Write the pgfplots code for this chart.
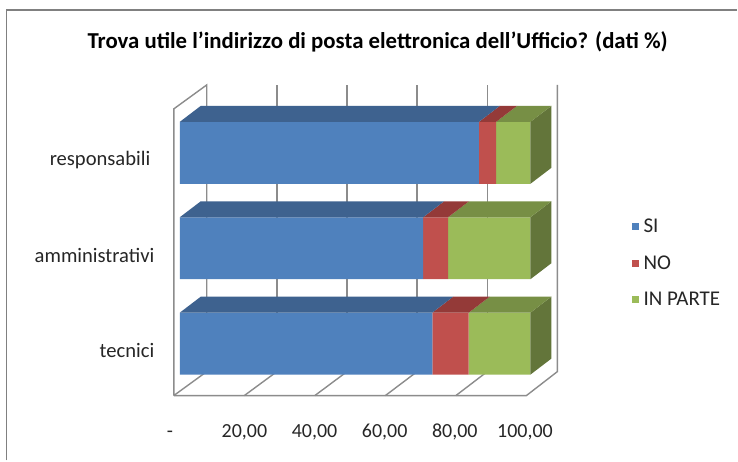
\documentclass[border=0pt]{standalone}
\usepackage{fontspec}
\setmainfont{Carlito}
\usepackage{pgfplots}
\pgfplotsset{compat=1.18}
\usepackage{pgfplotstable}
\definecolor{cB}{HTML}{4F81BD}\definecolor{cR}{HTML}{C0504D}\definecolor{cG}{HTML}{9BBB59}
\definecolor{tB}{HTML}{3E628F}\definecolor{tR}{HTML}{943A38}\definecolor{tG}{HTML}{778F45}
\definecolor{sG}{HTML}{63753A}\definecolor{wall}{HTML}{8C8C8C}
\pgfplotstableread{
y si no parte
0 72.0 10.4 17.6
1 69.4 7.1 23.5
2 85.3 4.9 9.8
}\datatab
\begin{document}
\begin{tikzpicture}[x=1pt,y=1pt]
% frame
\fill[white] (0,0) rectangle (738,461);
\draw[color=gray,line width=1.6pt] (6.5,0) -- (6.5,451) -- (738,451);
% walls and grid (pixel positions: y measured from top => 461-y)
\begin{scope}[wall,line width=1.4pt]
\draw (174,65) -- (174,352) -- (207,376) -- (207,89) -- (174,65);
\draw (174,65) -- (527,65) -- (558,89) -- (558,376);
\foreach \i in {1,...,4}{
 \draw ({207+70.2*\i},89) -- ({207+70.2*\i},376);
 \draw ({174+70.6*\i},65) -- ({207+70.2*\i},89);
}
\end{scope}
\begin{axis}[
 at={(0,0)},anchor=south west,scale only axis,width=738pt,height=461pt,
 xmin=-51.282,xmax=158.974,ymin=-1.2251,ymax=3.6021,
 clip=false,
 axis line style={draw=none},tick style={draw=none},
 xbar stacked,bar width=62pt,
 xtick={0,20,40,60,80,100},
 xticklabels={{-\hspace*{9pt}},{20,00},{40,00},{60,00},{80,00},{100,00}},
 x tick label style={font=\fontsize{20}{22}\selectfont,color=black!85,xshift=-5.5pt,yshift=23pt,anchor=base,text height=0pt},
 ytick={0,1,2},
 yticklabels={tecnici,amministrativi,{responsabili\hspace*{4pt}}},
 y tick label style={font=\fontsize{20.6}{22}\selectfont,color=black!85,xshift=158pt,yshift=-7pt,anchor=east},
 legend style={at={(632pt,243pt)},anchor=north west,draw=none,fill=none,font=\fontsize{21}{23}\selectfont,color=black!85,row sep=19.5pt,inner sep=0pt,nodes={inner ysep=1pt,inner xsep=5pt}},
 legend cell align=left,
 legend image code/.code={\fill[#1] (0pt,-3.5pt) rectangle (7pt,3.5pt);},
 title style={at={(378pt,406pt)},anchor=base,font=\fontsize{22.8}{24}\selectfont\bfseries},
 title={Trova utile l’indirizzo di posta elettronica dell’Ufficio? (dati \%)},
]
% depth faces
\addplot[forget plot,stack plots=false,sharp plot,fill=tB,draw=none] coordinates {(0,0.3246)(72,0.3246)(77.98,0.4921)(5.98,0.4921)} --cycle;
\addplot[forget plot,stack plots=false,sharp plot,fill=tR,draw=none] coordinates {(72,0.3246)(82.4,0.3246)(88.38,0.4921)(77.98,0.4921)} --cycle;
\addplot[forget plot,stack plots=false,sharp plot,fill=tG,draw=none] coordinates {(82.4,0.3246)(100,0.3246)(105.98,0.4921)(88.38,0.4921)} --cycle;
\addplot[forget plot,stack plots=false,sharp plot,fill=sG,draw=none] coordinates {(100,-0.3246)(100,0.3246)(105.98,0.4921)(105.98,-0.1571)} --cycle;
\addplot[forget plot,stack plots=false,sharp plot,fill=tB,draw=none] coordinates {(0,1.3246)(69.4,1.3246)(75.38,1.4921)(5.98,1.4921)} --cycle;
\addplot[forget plot,stack plots=false,sharp plot,fill=tR,draw=none] coordinates {(69.4,1.3246)(76.5,1.3246)(82.48,1.4921)(75.38,1.4921)} --cycle;
\addplot[forget plot,stack plots=false,sharp plot,fill=tG,draw=none] coordinates {(76.5,1.3246)(100,1.3246)(105.98,1.4921)(82.48,1.4921)} --cycle;
\addplot[forget plot,stack plots=false,sharp plot,fill=sG,draw=none] coordinates {(100,0.6754)(100,1.3246)(105.98,1.4921)(105.98,0.8429)} --cycle;
\addplot[forget plot,stack plots=false,sharp plot,fill=tB,draw=none] coordinates {(0,2.3246)(85.3,2.3246)(91.28,2.4921)(5.98,2.4921)} --cycle;
\addplot[forget plot,stack plots=false,sharp plot,fill=tR,draw=none] coordinates {(85.3,2.3246)(90.2,2.3246)(96.18,2.4921)(91.28,2.4921)} --cycle;
\addplot[forget plot,stack plots=false,sharp plot,fill=tG,draw=none] coordinates {(90.2,2.3246)(100,2.3246)(105.98,2.4921)(96.18,2.4921)} --cycle;
\addplot[forget plot,stack plots=false,sharp plot,fill=sG,draw=none] coordinates {(100,1.6754)(100,2.3246)(105.98,2.4921)(105.98,1.8429)} --cycle;
% front faces
\addplot[fill=cB,draw=none] table[x=si,y=y] {\datatab};
\addplot[fill=cR,draw=none] table[x=no,y=y] {\datatab};
\addplot[fill=cG,draw=none] table[x=parte,y=y] {\datatab};
\legend{SI,NO,IN PARTE}
\end{axis}
\end{tikzpicture}
\end{document}
